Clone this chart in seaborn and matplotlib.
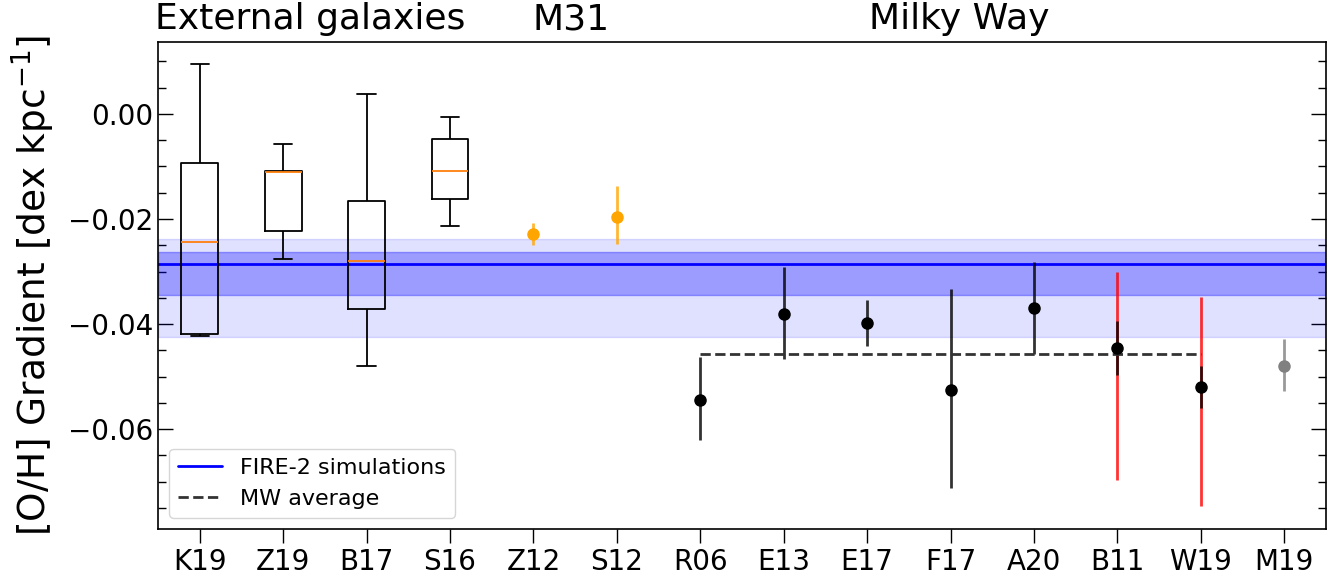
import numpy as np
import pandas as pd
import matplotlib
matplotlib.use("Agg")
import matplotlib.pyplot as plt
from matplotlib.ticker import MultipleLocator, AutoMinorLocator
from matplotlib.lines import Line2D
import seaborn as sns

# reference labels along the x axis
refs = ["K19", "Z19", "B17", "S16", "Z12", "S12", "R06",
        "E13", "E17", "F17", "A20", "B11", "W19", "M19"]

# external galaxies: box stats (whisker low, q1, median, q3, whisker high)
box_labels = ["K19", "Z19", "B17", "S16"]
box_lo = [-0.0423, -0.0276, -0.0480, -0.0213]
box_q1 = [-0.0418, -0.0222, -0.0371, -0.0162]
box_med = [-0.0244, -0.0111, -0.0279, -0.0108]
box_q3 = [-0.0094, -0.0108, -0.0165, -0.0048]
box_hi = [0.0095, -0.0057, 0.0038, -0.0006]

# M31
m31_labels = ["Z12", "S12"]
m31_val = [-0.0229, -0.0196]
m31_err_lo = [0.0020, 0.0052]
m31_err_hi = [0.0021, 0.0059]

# Milky Way
mw_labels = ["R06", "E13", "E17", "F17", "A20", "B11", "W19"]
mw_val = [-0.0544, -0.0381, -0.0398, -0.0526, -0.0370, -0.0446, -0.0520]
mw_err_lo = [0.0077, 0.0086, 0.0044, 0.0186, 0.0087, 0.0050, 0.0039]
mw_err_hi = [0.0082, 0.0089, 0.0044, 0.0192, 0.0089, 0.0052, 0.0041]

# larger (systematic) error bars in red
sys_labels = ["B11", "W19"]
sys_val = [-0.0446, -0.0520]
sys_err_lo = [0.0251, 0.0226]
sys_err_hi = [0.0146, 0.0171]

# grey point
m19_labels = ["M19"]
m19_val = [-0.0480]
m19_err_lo = [0.0047]
m19_err_hi = [0.0051]

mw_average = -0.0456

# FIRE-2 simulations: median, inner and outer bands
fire_median = -0.0285
fire_inner = [-0.0345, -0.0263]
fire_outer = [-0.0424, -0.0238]


def pos(labels):
    return [refs.index(l) + 1 for l in labels]


sns.set_style("ticks", {"text.color": "black", "axes.labelcolor": "black",
                        "xtick.color": "black", "ytick.color": "black",
                        "axes.edgecolor": "black"})
plt.rcParams["font.family"] = ["DejaVu Sans"]

fig = plt.figure(figsize=(13.36, 5.79), dpi=100)
ax = fig.add_axes([0.1183, 0.0864, 0.8742, 0.8411])

# simulation bands
ax.axhspan(fire_outer[0], fire_outer[1], color="blue", alpha=0.12, lw=1)
ax.axhspan(fire_inner[0], fire_inner[1], color="blue", alpha=0.3, lw=1)
ax.axhline(fire_median, color="blue", lw=2)

# boxes: five values per box so the quartiles land exactly on the stats
rows = []
for lab, lo, q1, med, q3, hi in zip(box_labels, box_lo, box_q1, box_med, box_q3, box_hi):
    for v in (lo, q1, med, q3, hi):
        rows.append({"pos": refs.index(lab) + 1, "val": v})
df_box = pd.DataFrame(rows)
sns.boxplot(data=df_box, x="pos", y="val", native_scale=True, whis=(0, 100),
            width=0.44, fill=False, color="black", linewidth=1.3,
            medianprops={"color": "#ff7f0e"}, ax=ax)

# M31
ax.errorbar(pos(m31_labels), m31_val, yerr=[m31_err_lo, m31_err_hi], fmt="o",
            color="orange", ms=8, elinewidth=2, ecolor=(1.0, 0.65, 0.0, 0.8))

# Milky Way
ax.errorbar(pos(sys_labels), sys_val, yerr=[sys_err_lo, sys_err_hi], fmt="none",
            ecolor=(1.0, 0.0, 0.0, 0.8), elinewidth=2)
ax.errorbar(pos(mw_labels), mw_val, yerr=[mw_err_lo, mw_err_hi], fmt="o",
            color="black", ms=8, elinewidth=2, ecolor=(0, 0, 0, 0.8))
ax.errorbar(pos(m19_labels), m19_val, yerr=[m19_err_lo, m19_err_hi], fmt="o",
            color="grey", ms=8, elinewidth=2, ecolor=(0.5, 0.5, 0.5, 0.8))

mw_x = pos(mw_labels)
ax.plot([min(mw_x), max(mw_x)], [mw_average, mw_average], ls="--",
        color="#333333", lw=2)

# axes
ax.set_xlim(0.5, 14.5)
ax.set_ylim(-0.079, 0.0137)
ax.set_xticks(range(1, len(refs) + 1))
ax.set_xticklabels(refs)
ax.set_xlabel("")
ax.set_ylabel(r"[O/H] Gradient [dex kpc$^{-1}$]", fontsize=27, labelpad=8)
ax.yaxis.set_major_locator(MultipleLocator(0.02))
ax.yaxis.set_minor_locator(AutoMinorLocator(4))
ax.tick_params(axis="y", which="both", direction="in", left=True, right=True,
               labelsize=20)
ax.tick_params(axis="y", which="major", length=10.5, width=1)
ax.tick_params(axis="y", which="minor", length=5.5, width=1)
ax.tick_params(axis="x", which="major", direction="out", length=10, width=1,
               labelsize=20)
for sp in ax.spines.values():
    sp.set_visible(True)
    sp.set_color("black")
    sp.set_linewidth(1.2)

# group titles above the axes
trans = ax.get_xaxis_transform()
ax.text(2.32, 1.026, "External galaxies", transform=trans, ha="center",
        va="baseline", fontsize=26)
ax.text(5.45, 1.026, "M31", transform=trans, ha="center", va="baseline",
        fontsize=26)
ax.text(10.1, 1.026, "Milky Way", transform=trans, ha="center", va="baseline",
        fontsize=26)

handles = [Line2D([], [], color="blue", lw=2),
           Line2D([], [], color="#333333", lw=2, ls="--")]
ax.legend(handles, ["FIRE-2 simulations", "MW average"], loc="lower left",
          fontsize=16)

fig.savefig("out.png", dpi=100)
